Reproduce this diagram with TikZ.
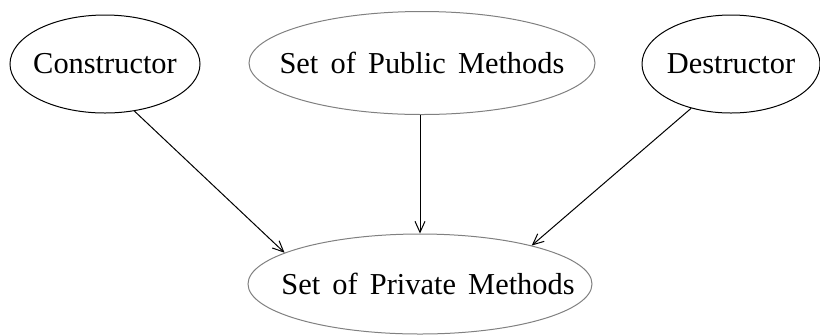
\documentclass[tikz,border=0pt]{standalone}
\usepackage{fontspec}
\setmainfont{Liberation Serif}
\usepackage{tikz}
\usetikzlibrary{arrows.meta,shapes.geometric}
\definecolor{edgegray}{HTML}{808080}
\newcommand\ovalfont{\fontsize{15.2}{18}\selectfont\spaceskip=6.1pt plus 1pt\relax}

\begin{document}
\begin{tikzpicture}[x=0.5pt,y=-0.5pt,
    oval/.style={ellipse,draw,line width=0.5pt,inner sep=0pt,
      label={[font=\ovalfont]center:#1}},
    link/.style={-{Straight Barb[length=5.5pt,width=5pt]},line width=0.5pt}]
  \useasboundingbox (0,0) rectangle (820,334);
  \node[oval=Constructor,minimum width=95pt,minimum height=49pt] (con) at (105,64) {};
  \node[oval=Set of Public Methods,draw=edgegray,minimum width=173pt,minimum height=51.5pt] (pub) at (422,63) {};
  \node[oval=Destructor,minimum width=89pt,minimum height=49pt] (des) at (731,64) {};
  \node[oval={\hspace*{8pt}Set of Private Methods},draw=edgegray,minimum width=172pt,minimum height=50pt] (priv) at (420,284) {};
  \draw[link] (con.-58) -- (priv.167);
  \draw[link] (pub.south -| priv.north) -- (priv.north);
  \draw[link] (des.228) -- (priv.19);
\end{tikzpicture}
\end{document}
